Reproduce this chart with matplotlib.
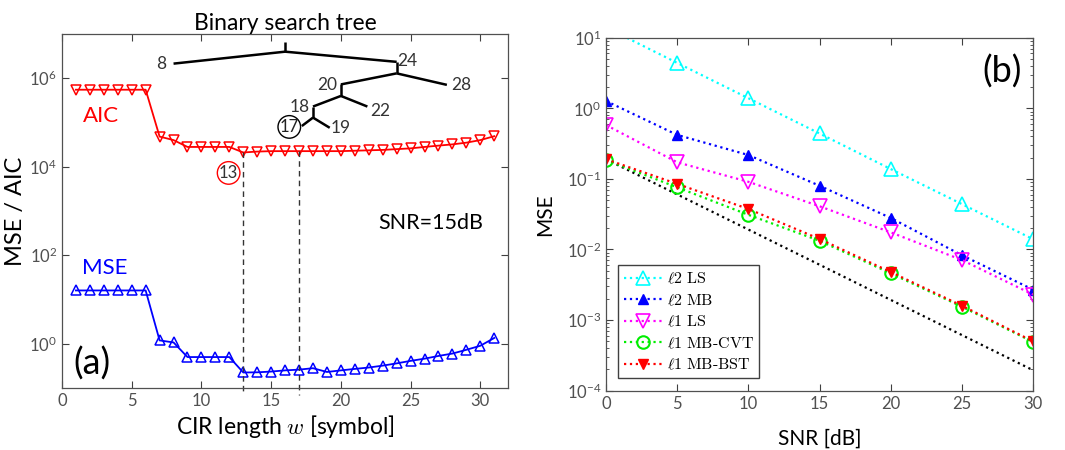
import matplotlib
matplotlib.use('Agg')
from matplotlib import pyplot as plt
from matplotlib.ticker import LogLocator, NullLocator, NullFormatter
import numpy as np

plt.rcParams['font.family'] = ['Lato', 'DejaVu Sans']
plt.rcParams['mathtext.fontset'] = 'cm'

# ---- panel (a): MSE / AIC versus CIR length ----
w = list(range(1, 32))
aic = [5.5e5, 5.5e5, 5.5e5, 5.5e5, 5.5e5, 5.5e5, 4.8e4, 4.0e4, 2.8e4, 2.8e4,
       2.8e4, 2.8e4, 2.1e4, 2.2e4, 2.25e4, 2.25e4, 2.25e4, 2.25e4, 2.25e4, 2.25e4,
       2.3e4, 2.35e4, 2.4e4, 2.5e4, 2.6e4, 2.8e4, 3.0e4, 3.2e4, 3.5e4, 4.0e4, 4.9e4]
mse = [16, 16, 16, 16, 16, 16, 1.19, 1.07, 0.5, 0.5,
       0.5, 0.5, 0.224, 0.226, 0.235, 0.25, 0.26, 0.28, 0.23, 0.25,
       0.27, 0.29, 0.32, 0.36, 0.41, 0.46, 0.53, 0.6, 0.73, 0.9, 1.35]
picked = [13, 17]

# binary search tree drawn over panel (a): segments (x0, y0, x1, y1) in data units
tree_x0 = [16, 16, 16, 24, 24, 24, 20, 20, 20, 18, 18, 18]
tree_y0 = [10**6.82, 10**6.6, 10**6.6, 10**6.37, 10**6.11, 10**6.11, 10**5.86, 10**5.6, 10**5.6, 10**5.36, 10**5.11, 10**5.11]
tree_x1 = [16, 8, 24, 24, 27.6, 20, 20, 21.9, 18, 18, 19.2, 17.2]
tree_y1 = [10**6.6, 10**6.33, 10**6.37, 10**6.11, 10**5.85, 10**5.86, 10**5.6, 10**5.36, 10**5.36, 10**5.11, 10**4.88, 10**4.92]
node_labels = ['8', '24', '28', '20', '22', '18', '19']
node_x = [7.45, 24.05, 27.9, 19.75, 22.1, 17.8, 19.3]
node_y = [10**6.33, 10**6.39, 10**5.85, 10**5.84, 10**5.27, 10**5.36, 10**4.88]
node_ha = ['right', 'left', 'left', 'right', 'left', 'right', 'left']

# ---- panel (b): MSE versus SNR ----
snr = [0, 5, 10, 15, 20, 25, 30]
l2_ls = [14, 4.4, 1.39, 0.44, 0.138, 0.044, 0.014]
l2_mb = [1.27, 0.42, 0.218, 0.080, 0.028, 0.0083, 0.0027]
l1_ls = [0.58, 0.172, 0.091, 0.041, 0.0175, 0.0071, 0.0023]
l1_cvt = [0.185, 0.076, 0.031, 0.0133, 0.0046, 0.00155, 0.00049]
l1_bst = [0.19, 0.085, 0.0375, 0.0141, 0.0048, 0.0016, 0.0005]
snr_bound = [0, 30]
mse_bound = [0.19, 1.95e-4]

fig = plt.figure(figsize=(10.65, 4.5), dpi=100)
ax1 = fig.add_axes([0.0582, 0.1378, 0.419, 0.7867])
ax2 = fig.add_axes([0.569, 0.1318, 0.401, 0.7844])

tick_col = '#505050'
for ax in (ax1, ax2):
    ax.set_yscale('log')
    ax.tick_params(which='both', direction='in', top=True, right=True,
                   colors='#404040', labelcolor=tick_col, labelsize=12)
    ax.tick_params(which='major', length=5)
    ax.tick_params(which='minor', length=2.5)
    for s in ax.spines.values():
        s.set_color('#505050')
        s.set_linewidth(0.9)

# panel (a)
ax1.plot(w, aic, color='red', lw=1.3, marker='v', ms=7, mfc='none', mec='red', mew=1.1)
ax1.plot(w, mse, color='blue', lw=1.3, marker='^', ms=7, mfc='none', mec='blue', mew=1.1)
for p in picked:
    ax1.plot([p, p], [aic[p - 1], 10**-1.15], color='#333333', lw=1, ls=(0, (4, 3)), clip_on=False)
for i in range(len(tree_x0)):
    ax1.plot([tree_x0[i], tree_x1[i]], [tree_y0[i], tree_y1[i]], color='black', lw=1.8,
             solid_capstyle='butt')
for lab, x, y, ha in zip(node_labels, node_x, node_y, node_ha):
    ax1.text(x, y, lab, ha=ha, va='center', fontsize=12.5, color='#333333')
ax1.text(16.3, 10**4.9, '17', ha='center', va='center', fontsize=12, color='#222222',
         bbox=dict(boxstyle='circle,pad=0.1', fc='white', ec='black', lw=1))
ax1.text(11.95, 10**3.86, '13', ha='center', va='center', fontsize=12, color='#333333',
         bbox=dict(boxstyle='circle,pad=0.1', fc='white', ec='red', lw=1))
ax1.text(1.5, 10**5.15, 'AIC', color='red', fontsize=16, va='center', ha='left')
ax1.text(1.4, 10**1.72, 'MSE', color='blue', fontsize=16, va='center', ha='left')
ax1.text(0.708, 0.467, 'SNR=15dB', transform=ax1.transAxes, fontsize=15.5, ha='left', va='center')
ax1.text(0.025, 0.07, '(a)', transform=ax1.transAxes, fontsize=26, ha='left', va='center')

ax1.set_xlim(0, 32)
ax1.set_ylim(1e-1, 1e7)
ax1.set_xticks([0, 5, 10, 15, 20, 25, 30])
ax1.set_yticks([1, 1e2, 1e4, 1e6])
ax1.yaxis.set_minor_locator(NullLocator())
ax1.set_xlabel('CIR length $\\mathit{w}$ [symbol]', fontsize=16.5, labelpad=3)
ax1.set_ylabel('MSE / AIC', fontsize=17, labelpad=2)
ax1.set_title('Binary search tree', fontsize=16.5, pad=3)

# panel (b)
ax2.plot(snr_bound, mse_bound, color='black', lw=1.6, ls=':')
ax2.plot(snr, l2_ls, color='#00ffff', lw=1.6, ls=':', marker='^', ms=10, mfc='none', mew=1.2,
         label='$\\ell2\\ \\mathrm{LS}$')
ax2.plot(snr, l2_mb, color='blue', lw=1.6, ls=':', marker='^', ms=7,
         label='$\\ell2\\ \\mathrm{MB}$')
ax2.plot(snr, l1_ls, color='#ff00ff', lw=1.6, ls=':', marker='v', ms=10, mfc='none', mew=1.2,
         label='$\\ell1\\ \\mathrm{LS}$')
ax2.plot(snr, l1_cvt, color='#00ee00', lw=1.6, ls=':', marker='o', ms=9, mfc='none', mew=1.5,
         label='$\\ell1\\ \\mathrm{MB\\text{-}CVT}$')
ax2.plot(snr, l1_bst, color='red', lw=1.6, ls=':', marker='v', ms=7,
         label='$\\ell1\\ \\mathrm{MB\\text{-}BST}$')
ax2.set_xlim(0, 30)
ax2.set_ylim(1e-4, 1e1)
ax2.set_xticks([0, 5, 10, 15, 20, 25, 30])
ax2.yaxis.set_major_locator(LogLocator(base=10, numticks=10))
ax2.yaxis.set_minor_locator(LogLocator(base=10, subs=np.arange(2, 10), numticks=10))
ax2.yaxis.set_minor_formatter(NullFormatter())
ax2.set_xlabel('SNR [dB]', fontsize=15, labelpad=12)
ax2.set_ylabel('MSE', fontsize=15, labelpad=8)
ax2.text(0.927, 0.905, '(b)', transform=ax2.transAxes, fontsize=26, ha='center', va='center')
leg = ax2.legend(loc='lower left', bbox_to_anchor=(0.028, 0.036), fontsize=11.5, fancybox=False,
                 framealpha=1, edgecolor='#404040', handlelength=2.4, borderpad=0.35,
                 labelspacing=0.38, handletextpad=0.3, borderaxespad=0)
leg.get_frame().set_linewidth(1.0)

fig.savefig('out.png', dpi=100)
